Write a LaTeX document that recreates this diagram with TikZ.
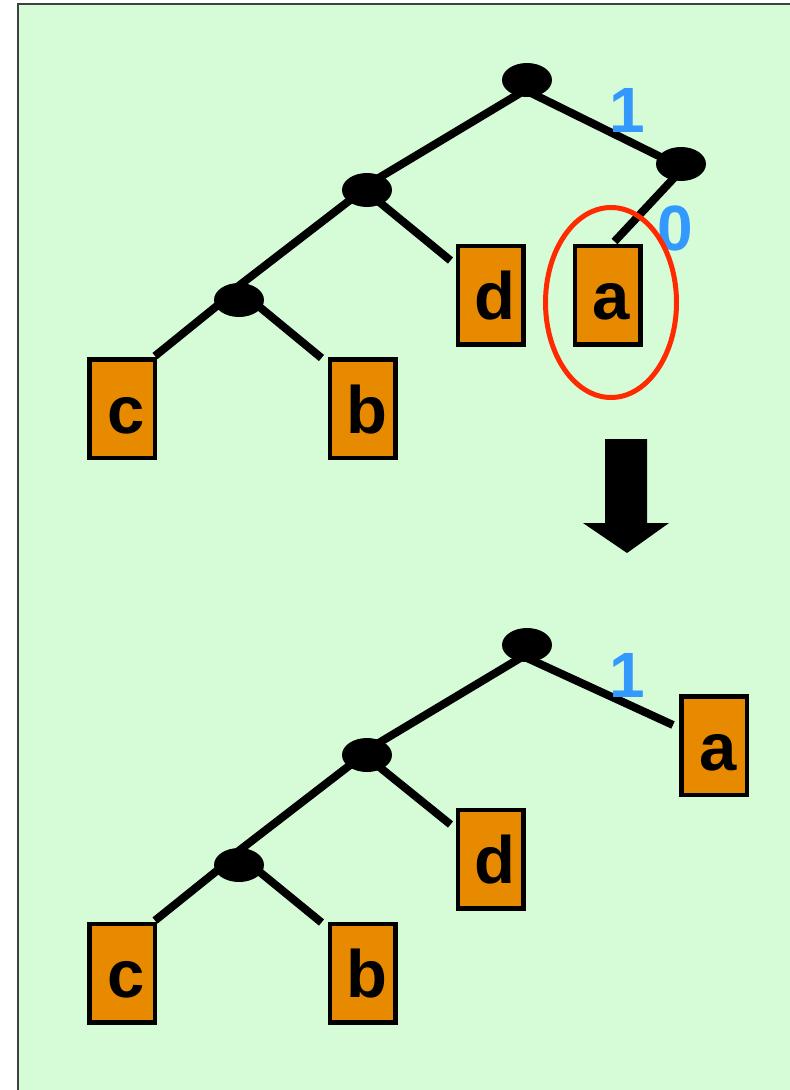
\documentclass[tikz,border=0pt]{standalone}
\usepackage{fontspec}
\setmainfont{Liberation Sans}
\usetikzlibrary{shapes.geometric,calc,backgrounds}
\definecolor{panelgreen}{RGB}{213,252,215}
\definecolor{leaforange}{RGB}{232,138,0}
\definecolor{bitblue}{RGB}{51,153,255}
\definecolor{ringred}{RGB}{255,42,0}
\tikzset{
  inner/.style={ellipse, fill=black, inner sep=0pt, minimum width=50pt, minimum height=34pt},
  leaf/.style={draw=black, line width=4.5pt, fill=leaforange, inner sep=0pt,
    minimum width=65.5pt, minimum height=98.5pt, text height=74pt, text depth=24.5pt,
    font=\fontsize{67pt}{67pt}\selectfont\bfseries},
  bit/.style={inner sep=0pt, text=bitblue, font=\fontsize{64pt}{64pt}\selectfont\bfseries},
  edge/.style={line width=8pt, black},
  ring/.style={ellipse, draw=ringred, line width=5pt, inner sep=0pt,
    minimum width=131pt, minimum height=190pt},
}
\begin{document}
\begin{tikzpicture}[x=1pt, y=-1pt]
\useasboundingbox (0,0) rectangle (790,1090);

% tree before the move
\node[inner] (r)  at (527,80)  {};
\node[inner] (rr) at (681,164) {};
\node[inner] (l)  at (367,190) {};
\node[inner] (ll) at (239,300) {};
\node[leaf] (c) at (122,408.5) {\hspace*{8pt}c};
\node[leaf] (b) at (362.5,408.5) {\hspace*{8pt}b};
\node[leaf] (d) at (490.5,295) {\hspace*{8pt}d};
\node[leaf] (a) at (607.5,295) {\hspace*{8pt}a};
\node[bit] (one)  at (627,110) {1};
\node[bit] (zero) at (675,228) {0};
\node[ring] (mark) at (611,302.5) {};

% move arrow
\fill[black] (605,439) -- (647,439) -- (647,523) -- (669,523) -- (627,553)
  -- (583,523) -- (605,523) -- cycle;

% tree after the move
\node[inner] (r2)  at (527,645) {};
\node[inner] (l2)  at (367,755) {};
\node[inner] (ll2) at (239,865) {};
\node[leaf] (c2) at (122,973) {\hspace*{8pt}c};
\node[leaf] (b2) at (362.5,973) {\hspace*{8pt}b};
\node[leaf] (d2) at (490.5,859) {\hspace*{8pt}d};
\node[leaf] (a2) at (714,745.5) {\hspace*{8pt}a};
\node[bit] (one2) at (627,675) {1};

\begin{pgfonlayer}{background}
% panel
\fill[white] (0,0) rectangle (790,1090);
\draw[fill=panelgreen, draw=black!75, line width=1.5pt] (18,4) rectangle (810,1110);
% edges, upper tree
\draw[edge] ($(r.center)+(0,9)$) -- ($(l.center)+(0,-5)$);
\draw[edge] ($(r.center)+(0,11)$) -- ($(rr.center)+(0,3)$);
\draw[edge] ($(rr.center)+(6,0)$) -- ($(a.north)+(7,-2)$);
\draw[edge] ($(l.center)+(0,-3)$) -- ($(ll.center)+(-3,-12)$);
\draw[edge] ($(l.center)+(0,2)$) -- ($(d.north west)+(-5,17)$);
\draw[edge] ($(ll.center)+(0,-12)$) -- ($(c.north east)+(-2,-1)$);
\draw[edge] ($(ll.center)+(0,-10)$) -- ($(b.north west)+(-6,1)$);
% edges, lower tree
\draw[edge] ($(r2.center)+(0,9)$) -- ($(l2.center)+(0,-5)$);
\draw[edge] ($(r2.center)+(0,13)$) -- ($(a2.north west)+(-6,31)$);
\draw[edge] ($(l2.center)+(0,-3)$) -- ($(ll2.center)+(-3,-12)$);
\draw[edge] ($(l2.center)+(0,2)$) -- ($(d2.north west)+(-5,17)$);
\draw[edge] ($(ll2.center)+(0,-12)$) -- ($(c2.north east)+(-2,-1)$);
\draw[edge] ($(ll2.center)+(0,-10)$) -- ($(b2.north west)+(-6,1)$);
\end{pgfonlayer}
\end{tikzpicture}
\end{document}
